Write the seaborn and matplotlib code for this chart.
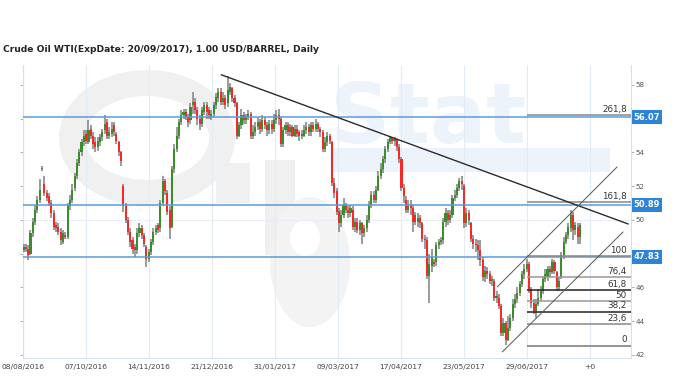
import numpy as np
import pandas as pd
import matplotlib
matplotlib.use("Agg")
import matplotlib.pyplot as plt
import seaborn as sns
from matplotlib.patches import Rectangle, Ellipse, Annulus

# ---------------- data ----------------
title = "Crude Oil WTI(ExpDate: 20/09/2017), 1.00 USD/BARREL, Daily"

opens = [
    48.2, 48.4, 48.3, 48.0, 49.2, 49.9, 50.6, 51.2, 53.0, 52.1,
    51.6, 51.4, 51.0, 50.4, 49.7, 49.6, 49.3, 48.7, 49.1, 49.0,
    50.8, 51.2, 51.9, 52.6, 53.4, 54.0, 54.6, 55.1, 54.6, 55.4,
    55.0, 54.6, 54.3, 54.6, 54.9, 55.3, 55.8, 55.0, 55.1, 55.6,
    55.1, 54.6, 54.0, 52.0, 50.8, 50.0, 49.3, 48.8, 48.4, 48.2,
    49.2, 49.5, 49.1, 48.4, 47.7, 48.1, 48.7, 49.3, 49.7, 49.5,
    51.0, 52.3, 51.6, 50.6, 49.6, 53.0, 54.2, 55.0, 55.8, 56.2,
    56.4, 56.1, 55.9, 56.8, 57.0, 56.5, 56.0, 55.7, 56.4, 56.8,
    56.5, 56.1, 56.3, 56.8, 57.2, 57.6, 57.0, 57.2, 56.9, 57.6,
    57.8, 57.2, 56.9, 55.0, 55.6, 56.2, 55.9, 56.1, 56.3, 55.0,
    55.2, 55.5, 55.8, 55.4, 55.9, 55.6, 55.3, 55.7, 55.4, 55.9,
    56.2, 56.0, 54.5, 55.3, 55.6, 55.2, 55.5, 55.0, 55.4, 55.2,
    55.0, 55.0, 55.3, 55.5, 55.2, 55.6, 55.4, 55.7, 55.4, 55.2,
    54.2, 54.6, 55.0, 54.6, 52.2, 51.7, 50.5, 49.8, 50.3, 50.9,
    50.6, 50.4, 50.6, 49.6, 49.9, 49.4, 49.8, 49.2, 49.5, 50.0,
    50.9, 51.5, 51.2, 51.8, 52.6, 53.0, 53.6, 54.2, 54.6, 54.9,
    54.7, 54.8, 54.3, 53.6, 51.9, 51.2, 50.6, 50.9, 50.7, 50.3,
    49.9, 50.1, 49.8, 48.9, 48.8, 46.7, 47.3, 47.5, 47.5, 48.5,
    48.7, 48.8, 49.9, 50.4, 50.0, 50.3, 51.3, 51.5, 51.9, 52.3,
    52.0, 49.8, 50.4, 49.8, 48.9, 48.6, 48.5, 48.2, 47.6, 46.6,
    47.0, 46.8, 46.4, 46.4, 45.4, 45.4, 44.9, 43.3, 43.9, 42.9,
    43.6, 44.2, 45.0, 45.3, 45.7, 46.2, 46.8, 47.1, 47.4, 45.9,
    45.1, 44.6, 45.0, 45.4, 45.8, 46.5, 46.6, 47.1, 46.9, 47.5,
    46.9, 46.0, 46.6, 47.9, 48.7, 49.1, 49.5, 50.3, 49.4, 49.6, 49.0,
]
closes = [
    48.4, 48.3, 47.9, 49.2, 49.9, 50.6, 51.2, 51.8, 53.1, 51.6,
    51.3, 51.0, 50.4, 49.6, 49.5, 49.3, 48.8, 49.2, 49.0, 50.8,
    51.2, 51.8, 52.6, 53.4, 54.0, 54.6, 55.0, 54.7, 55.3, 55.0,
    54.5, 54.3, 54.7, 54.9, 55.2, 55.7, 55.0, 55.2, 55.4, 55.2,
    54.7, 54.0, 53.5, 50.8, 50.0, 49.3, 48.7, 48.3, 48.2, 49.2,
    49.5, 49.1, 48.6, 47.7, 48.1, 48.7, 49.3, 49.5, 49.4, 51.0,
    52.3, 51.7, 50.5, 49.5, 53.0, 54.2, 55.0, 55.8, 56.2, 56.4,
    56.1, 55.8, 56.7, 57.0, 56.5, 56.0, 55.7, 56.5, 56.8, 56.4,
    56.2, 56.3, 56.8, 57.3, 57.6, 57.0, 57.2, 56.8, 57.7, 57.9,
    57.2, 56.9, 55.0, 55.6, 56.2, 55.9, 56.1, 56.3, 55.0, 55.2,
    55.5, 55.8, 55.4, 55.9, 55.6, 55.3, 55.7, 55.4, 55.9, 56.2,
    56.0, 54.5, 55.3, 55.6, 55.2, 55.5, 55.0, 55.4, 55.1, 55.0,
    55.0, 55.3, 55.5, 55.2, 55.6, 55.4, 55.7, 55.4, 55.2, 54.2,
    54.6, 55.0, 54.7, 52.2, 51.6, 50.5, 49.8, 50.3, 50.9, 50.6,
    50.4, 50.7, 49.6, 49.9, 49.4, 49.8, 49.2, 49.5, 50.0, 50.9,
    51.5, 51.2, 51.8, 52.6, 53.0, 53.6, 54.2, 54.6, 54.9, 54.7,
    54.8, 54.3, 53.6, 51.9, 51.4, 50.6, 50.9, 50.7, 49.9, 49.9,
    50.1, 49.8, 48.9, 48.8, 46.7, 47.4, 47.8, 47.4, 48.5, 48.7,
    48.8, 49.9, 50.4, 50.0, 50.3, 51.3, 51.5, 51.9, 52.3, 52.1,
    49.8, 50.4, 50.0, 48.9, 48.6, 48.5, 48.2, 47.6, 46.6, 47.0,
    46.8, 46.4, 46.5, 45.4, 45.4, 44.9, 43.3, 43.9, 42.9, 43.6,
    44.2, 45.0, 45.3, 45.7, 46.2, 46.8, 47.1, 47.4, 45.9, 45.1,
    44.6, 45.0, 45.4, 45.8, 46.5, 46.8, 47.1, 46.9, 47.5, 47.0,
    46.0, 46.4, 47.9, 48.7, 49.1, 49.6, 50.3, 49.4, 49.7, 49.0, 49.7,
]
highs = [
    48.6, 48.6, 48.5, 49.4, 50.1, 50.9, 51.4, 52.4, 53.2, 52.6,
    51.8, 51.6, 51.2, 50.6, 49.9, 49.8, 49.5, 49.4, 49.3, 51.0,
    51.5, 52.1, 52.8, 53.6, 54.2, 54.8, 55.3, 55.3, 55.9, 55.6,
    55.2, 54.9, 54.9, 55.1, 55.4, 56.2, 56.0, 55.5, 55.8, 55.8,
    55.2, 54.7, 54.1, 52.1, 51.0, 50.2, 49.5, 49.0, 48.6, 49.5,
    49.8, 49.7, 49.2, 48.5, 48.3, 48.9, 49.5, 49.7, 49.8, 51.2,
    52.6, 52.4, 51.8, 50.8, 53.2, 54.5, 55.5, 56.0, 56.5, 56.6,
    56.6, 56.3, 56.9, 57.6, 57.2, 56.7, 56.2, 56.7, 57.0, 57.0,
    56.7, 56.5, 57.0, 57.5, 57.8, 57.8, 57.6, 57.4, 58.5, 58.1,
    57.9, 57.4, 57.0, 55.8, 56.6, 56.4, 56.3, 56.5, 56.4, 55.6,
    55.8, 56.1, 56.0, 56.2, 56.1, 55.8, 55.9, 55.9, 56.3, 56.5,
    56.6, 56.1, 55.5, 55.8, 55.8, 55.7, 55.6, 55.6, 55.6, 55.3,
    55.3, 55.6, 55.8, 55.7, 55.8, 55.8, 56.0, 55.8, 55.5, 55.3,
    54.9, 55.2, 55.1, 54.7, 52.5, 51.9, 50.7, 50.6, 51.3, 51.0,
    50.8, 50.9, 50.8, 50.1, 50.1, 50.0, 49.9, 49.7, 50.3, 51.1,
    51.7, 51.7, 52.0, 52.9, 53.4, 53.8, 54.4, 54.8, 55.0, 54.9,
    54.9, 54.6, 54.5, 53.7, 52.1, 51.4, 51.2, 51.2, 50.9, 50.5,
    50.4, 50.3, 49.9, 49.1, 49.0, 48.0, 48.3, 47.7, 48.7, 48.9,
    49.0, 50.1, 50.7, 50.6, 50.6, 51.5, 51.8, 52.1, 52.5, 52.6,
    52.1, 50.7, 50.6, 49.9, 49.1, 48.9, 48.8, 48.8, 47.8, 47.3,
    47.2, 47.0, 46.7, 46.5, 45.8, 45.6, 45.0, 44.2, 44.0, 44.3,
    44.4, 45.3, 45.6, 46.0, 46.4, 47.0, 47.4, 47.7, 47.5, 46.0,
    45.3, 45.3, 45.9, 46.1, 46.7, 47.1, 47.3, 47.3, 47.7, 47.6,
    47.0, 46.6, 48.1, 49.0, 49.3, 49.8, 50.6, 50.5, 49.9, 49.8, 49.8,
]
lows = [
    48.1, 48.1, 47.6, 47.9, 49.0, 49.7, 50.4, 51.0, 52.9, 51.4,
    51.1, 50.8, 50.1, 49.4, 49.3, 49.1, 48.5, 48.6, 48.9, 48.9,
    50.6, 51.0, 51.7, 52.4, 53.2, 53.8, 54.4, 54.5, 54.5, 54.8,
    54.2, 54.0, 54.1, 54.4, 54.7, 55.1, 54.8, 54.8, 54.9, 55.0,
    54.5, 53.8, 53.2, 50.5, 49.8, 49.1, 48.4, 48.0, 47.8, 48.0,
    49.0, 48.9, 48.4, 47.2, 47.5, 47.9, 48.5, 49.1, 49.2, 49.3,
    50.8, 51.5, 50.3, 48.9, 49.5, 52.8, 54.0, 54.8, 55.6, 56.0,
    55.9, 55.5, 55.7, 56.3, 56.3, 55.6, 55.3, 55.5, 56.2, 56.0,
    56.0, 55.9, 56.1, 56.6, 57.0, 56.8, 56.8, 56.6, 56.7, 57.4,
    57.0, 56.7, 54.8, 54.9, 55.4, 55.7, 55.7, 55.9, 54.8, 54.8,
    55.0, 55.3, 55.1, 55.2, 55.4, 55.0, 55.1, 55.1, 55.2, 55.7,
    55.6, 54.3, 54.3, 55.1, 55.0, 55.0, 54.9, 54.9, 54.9, 54.7,
    54.8, 54.9, 55.1, 55.0, 55.0, 55.2, 55.2, 55.2, 54.9, 54.0,
    54.0, 54.4, 54.5, 52.0, 51.3, 50.3, 49.3, 49.6, 50.1, 50.4,
    50.1, 50.2, 49.4, 49.3, 49.2, 49.1, 48.6, 49.0, 49.3, 49.8,
    50.7, 51.0, 51.0, 51.7, 52.4, 52.8, 53.4, 54.0, 54.5, 54.5,
    54.4, 54.1, 53.4, 51.7, 51.0, 50.4, 50.4, 50.3, 49.3, 49.7,
    49.6, 49.5, 48.7, 48.3, 46.5, 45.1, 46.9, 47.2, 47.3, 48.3,
    48.5, 48.6, 49.6, 49.7, 49.8, 50.1, 51.1, 51.3, 51.7, 51.8,
    49.5, 49.6, 49.7, 48.7, 48.3, 48.1, 47.6, 47.3, 46.4, 46.3,
    46.5, 46.2, 46.1, 45.2, 45.1, 44.7, 43.1, 43.1, 42.6, 42.8,
    43.4, 44.0, 44.8, 45.1, 45.5, 46.0, 46.5, 46.9, 45.7, 44.8,
    44.4, 44.2, 44.9, 45.2, 45.6, 46.3, 46.4, 46.6, 46.8, 46.8,
    45.8, 45.8, 46.5, 47.7, 48.6, 48.9, 49.3, 48.8, 49.1, 48.6, 48.6,
]

xtick_labels = ["08/08/2016", "07/10/2016", "14/11/2016", "21/12/2016",
                "31/01/2017", "09/03/2017", "17/04/2017", "23/05/2017",
                "29/06/2017", "+0"]
xtick_pos = [-0.4, 26.8, 54.0, 81.2, 108.4, 135.6, 162.8, 190.0, 217.2, 244.4]

ytick_vals = [42, 44, 46, 48, 50, 52, 54, 56, 58]
ytick_labels = ["42", "44", "46", "", "50", "52", "54", "", "58"]

level_prices = [56.07, 50.89, 47.83]
level_labels = ["56.07", "50.89", "47.83"]

fib_labels = ["0", "23,6", "38,2", "50", "61,8", "76,4", "100", "161,8", "261,8"]
fib_prices = [42.56, 43.82, 44.57, 45.20, 45.83, 46.60, 47.88, 51.05, 56.20]
fib_start = 217.2

trend_x = [85.3, 260.8]
trend_y = [58.60, 49.76]
chan_up_x = [204.3, 256.0]
chan_up_y = [46.03, 53.14]
chan_lo_x = [206.5, 258.6]
chan_lo_y = [42.18, 49.29]

# ---------------- figure ----------------
sns.set_theme(style="white")
plt.rcParams['font.family'] = ['DejaVu Sans']

W, H = 680, 381
fig = plt.figure(figsize=(W / 100, H / 100), dpi=100)
fig.patch.set_facecolor("white")

# faint watermark background (figure pixel coordinates)
bg = fig.add_axes([0, 0, 1, 1], zorder=0)
bg.set_xlim(0, W)
bg.set_ylim(H, 0)
bg.axis("off")
wm_gray = "#f0f0f0"
wm_blue = "#edf3fa"
bg.add_patch(Annulus((147, 138), (88, 68), 26, color=wm_gray, lw=0))
bg.add_patch(Rectangle((216, 163), 34, 40, color=wm_gray, lw=0))
bg.add_patch(Rectangle((265, 160), 30, 95, color=wm_gray, lw=0))
bg.add_patch(Ellipse((310, 262), 80, 130, color="#f3f3f3", lw=0))
bg.add_patch(Ellipse((305, 238), 30, 36, color="white", lw=0))
bg.add_patch(Rectangle((330, 148), 280, 24, color=wm_blue, lw=0))
bg.text(330, 143, "Stat", fontsize=60, fontweight="bold", color=wm_blue,
        ha="left", va="baseline")

# main axes
x0, x1 = 22.5, 631.0
y_top, y_bot = 65.0, 358.0
ax = fig.add_axes([x0 / W, (H - y_bot) / H, (x1 - x0) / W, (y_bot - y_top) / H], zorder=1)
ax.set_facecolor("none")

df = pd.DataFrame({"idx": np.arange(len(closes)), "open": opens, "high": highs,
                   "low": lows, "close": closes})
up = df["close"] >= df["open"]
body_low = df[["open", "close"]].min(axis=1)
body_h = (df["close"] - df["open"]).abs().clip(lower=0.07)
colors = np.where(up, "#3b8c2a", "#f42a2a")

ax.vlines(df["idx"], df["low"], df["high"], color="#808080", lw=1.1, zorder=3)
ax.bar(df["idx"], body_h, bottom=body_low, width=0.9, color=colors, lw=0, zorder=4)

# horizontal support / resistance lines
for p in level_prices:
    ax.axhline(p, color="#5b9bd9", lw=1.1, zorder=5)

# faint mid grid line
ax.axhline(50, color="#e8eef5", lw=0.8, zorder=0.5)

# fibonacci levels
xmax = 262.0
fib_colors = ["#777777", "#888888", "#222222", "#999999", "#222222", "#999999",
              "#888888", "#888888", "#888888"]
for lab, p, c in zip(fib_labels, fib_prices, fib_colors):
    ax.hlines(p, fib_start, xmax, color=c, lw=1.1, zorder=6)
    ax.text(260.2, p + 0.07, lab, ha="right", va="bottom", fontsize=6.3,
            color="#333333", zorder=7)

# trend and channel lines
sns.lineplot(x=trend_x, y=trend_y, ax=ax, color="#2b2b2b", lw=1.0, zorder=6)
sns.lineplot(x=chan_up_x, y=chan_up_y, ax=ax, color="#555555", lw=0.7, zorder=6)
sns.lineplot(x=chan_lo_x, y=chan_lo_y, ax=ax, color="#555555", lw=0.7, zorder=6)

ax.set_xlim(-0.45, 262.0)
ax.set_ylim(41.82, 59.18)

# axes styling
ax.spines["top"].set_visible(False)
for s in ["left", "bottom", "right"]:
    ax.spines[s].set_color("#d3e1ee")
    ax.spines[s].set_linewidth(0.8)

ax.set_yticks(ytick_vals)
ax.set_yticklabels(ytick_labels)
ax.tick_params(axis="y", left=True, right=True, labelleft=False, labelright=True,
               length=2, width=0.6, color="#9aa7b4", labelsize=5.1,
               labelcolor="#555555", pad=1.2, direction="out")
ax.set_xticks(xtick_pos)
ax.set_xticklabels(xtick_labels)
ax.tick_params(axis="x", bottom=False, length=0, labelsize=5.4,
               labelcolor="#444444", pad=4)
ax.grid(axis="x", color="#e3ecf5", lw=0.8)
ax.grid(axis="y", visible=False)
ax.set_xlabel("")
ax.set_ylabel("")

# value boxes on the right axis
ytr = ax.get_yaxis_transform()
bw = 30 / (x1 - x0)
bh = 14 / ((y_bot - y_top) / (59.18 - 41.82))
for p, lab in zip(level_prices, level_labels):
    ax.add_patch(Rectangle((1.0 + 0.5 / (x1 - x0), p - bh / 2), bw, bh,
                           transform=ytr, color="#2b84d8", lw=0,
                           clip_on=False, zorder=10))
    ax.text(1.0 + 0.5 / (x1 - x0) + bw / 2, p, lab, transform=ytr,
            ha="center", va="center", fontsize=6, fontweight="bold",
            color="white", clip_on=False, zorder=11)

fig.text(3 / W, 1 - 50 / H, title, fontsize=6.6, fontweight="bold",
         color="#222222", ha="left", va="center")

fig.savefig("out.png", dpi=100, facecolor="white")
